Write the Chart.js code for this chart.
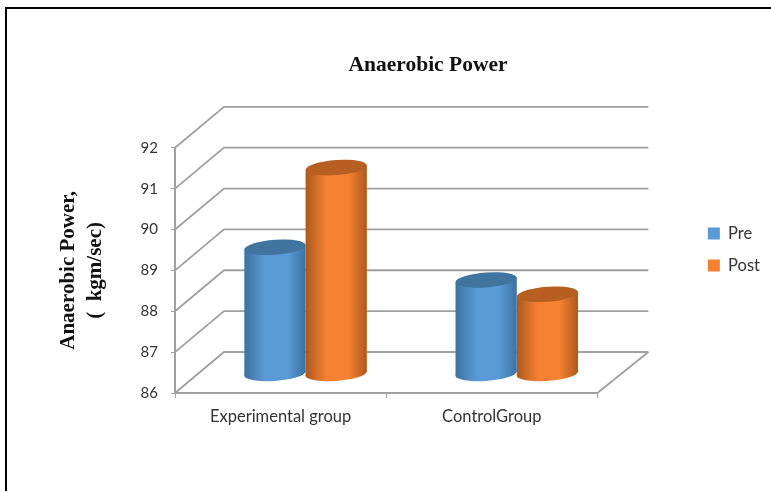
<!DOCTYPE html>
<html>
<head>
<meta charset="utf-8">
<style>
  html, body { margin: 0; padding: 0; background: #fff; overflow: hidden; }
  #frame { position: absolute; left: 5px; top: 7px; width: 800px; height: 520px; border: 2px solid #000; }
  #chart { position: absolute; left: 0; top: 0; }
</style>
<script src="https://cdn.jsdelivr.net/npm/chart.js@4"></script>
</head>
<body>
<div id="frame"></div>
<canvas id="chart" width="771" height="491"></canvas>
<script>
const categories = ['Experimental group', 'ControlGroup'];
const preValues = [89.1, 88.3];
const postValues = [91.05, 87.95];
const yTicks = [86, 87, 88, 89, 90, 91, 92];
const yTitle = ['Anaerobic Power,', '(  kgm/sec)'];

// how far the back wall sits from the front of the box
const WALL_X = 49, WALL_Y = 41;
// bars stand half way into the box
const BAR_X = 25, BAR_Y = 19;
const SHEAR = -0.07;

class CylinderBar extends Chart.BarElement {
  static id = 'cylinderBar';
  static defaults = { ...Chart.BarElement.defaults, sideColor: '#666', capColor: '#444' };
  static defaultRoutes = Chart.BarElement.defaultRoutes;

  draw(ctx) {
    const { x, y, base, width } = this.getProps(['x', 'y', 'base', 'width']);
    const o = this.options;
    const left = x - width / 2;
    const grad = ctx.createLinearGradient(left, 0, left + width, 0);
    grad.addColorStop(0, o.sideColor);
    grad.addColorStop(0.35, o.backgroundColor);
    grad.addColorStop(0.7, o.backgroundColor);
    grad.addColorStop(1, o.sideColor);

    ctx.save();
    ctx.translate(BAR_X, -BAR_Y);
    ctx.transform(1, SHEAR, 0, 1, 0, -SHEAR * x);
    ctx.fillStyle = grad;
    ctx.beginPath();
    ctx.ellipse(x, base, width / 2, 7.5, 0, 0, Math.PI * 2);
    ctx.fill();
    ctx.fillRect(left, y, width, base - y);
    ctx.fillStyle = o.capColor;
    ctx.beginPath();
    ctx.ellipse(x, y, width / 2, 7.5, 0, 0, Math.PI * 2);
    ctx.fill();
    ctx.restore();
  }
}

class CylinderController extends Chart.BarController {
  static id = 'cylinder';
  static defaults = { ...Chart.BarController.defaults, dataElementType: 'cylinderBar' };
  static overrides = Chart.BarController.overrides;
}

Chart.register(CylinderBar, CylinderController);

// back wall, side wall and floor of the 3d box
const box3d = {
  id: 'box3d',
  beforeDatasetsDraw(chart) {
    const { ctx, chartArea, scales } = chart;
    const { left, right } = chartArea;
    ctx.save();
    ctx.strokeStyle = '#a0a0a0';
    ctx.lineWidth = 1.8;
    yTicks.forEach(t => {
      const y = scales.y.getPixelForValue(t);
      ctx.beginPath();
      ctx.moveTo(left, y);
      ctx.lineTo(left + WALL_X, y - WALL_Y);
      ctx.lineTo(right + WALL_X + 2, y - WALL_Y);
      ctx.stroke();
    });
    const floor = scales.y.getPixelForValue(yTicks[0]);
    ctx.beginPath();
    ctx.moveTo(right, floor);
    ctx.lineTo(right + WALL_X + 2, floor - WALL_Y);
    ctx.stroke();
    ctx.restore();
  }
};

new Chart(document.getElementById('chart'), {
  type: 'cylinder',
  plugins: [box3d],
  data: {
    labels: categories,
    datasets: [
      { label: 'Pre', data: preValues, base: yTicks[0], clip: false,
        backgroundColor: '#5b9bd5', sideColor: '#3d72a4', capColor: '#41749f' },
      { label: 'Post', data: postValues, base: yTicks[0], clip: false,
        backgroundColor: '#f58232', sideColor: '#ad591d', capColor: '#b65f20' }
    ]
  },
  options: {
    responsive: false,
    devicePixelRatio: 1,
    animation: false,
    categoryPercentage: 0.58,
    barPercentage: 1,
    layout: { padding: { left: 86, right: 1, top: 8, bottom: 0 } },
    plugins: {
      title: {
        display: true,
        text: 'Anaerobic Power',
        color: '#111',
        font: { family: 'Liberation Serif', size: 21.5, weight: 'bold' },
        padding: { top: 45, bottom: 69 }
      },
      legend: {
        position: 'right',
        labels: {
          color: '#333',
          boxWidth: 12,
          boxHeight: 12,
          padding: 15.5,
          font: { family: 'Lato', size: 16.5 }
        }
      },
      tooltip: { enabled: false }
    },
    scales: {
      x: {
        grid: { drawOnChartArea: false, color: '#a0a0a0', tickLength: 5, offset: true },
        border: { color: '#a0a0a0', width: 2 },
        ticks: { color: '#333', padding: 9, font: { family: 'Lato', size: 16.5 } },
        afterFit: s => { s.height = 98; }
      },
      y: {
        min: yTicks[0],
        max: yTicks[yTicks.length - 1],
        ticks: { stepSize: 1, color: '#333', padding: 13, font: { family: 'Lato', size: 15 } },
        grid: { drawOnChartArea: false, color: '#a0a0a0', tickLength: 4 },
        border: { color: '#a0a0a0', width: 2 },
        title: {
          display: true,
          text: yTitle,
          color: '#111',
          font: { family: 'Liberation Serif', size: 21, weight: 'bold', lineHeight: 1.3 },
          padding: { top: -31 }
        },
        afterFit: s => { s.width = 89; }
      },
      // empty axis, keeps the gap between the box and the legend
      gap: {
        position: 'right',
        grid: { display: false },
        border: { display: false },
        ticks: { display: false },
        afterFit: s => { s.width = 95; }
      }
    }
  }
});
</script>
</body>
</html>
